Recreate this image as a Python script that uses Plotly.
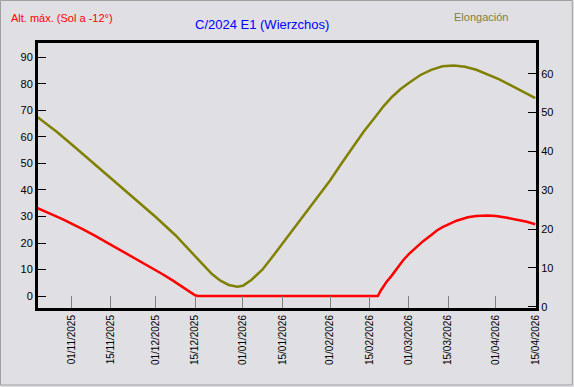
import plotly.graph_objects as go

# Altitud máxima (Sol a -12°) - eje izquierdo
alt_dates = ["2025-10-20", "2025-10-22", "2025-10-25", "2025-10-29", "2025-11-01", "2025-11-05",
             "2025-11-09", "2025-11-13", "2025-11-17", "2025-11-21", "2025-11-25", "2025-11-29",
             "2025-12-03", "2025-12-07", "2025-12-11", "2025-12-15", "2025-12-16", "2026-02-18",
             "2026-02-19", "2026-02-21", "2026-02-23", "2026-02-25", "2026-02-27", "2026-03-01",
             "2026-03-04", "2026-03-06", "2026-03-09", "2026-03-11", "2026-03-13", "2026-03-16",
             "2026-03-18", "2026-03-22", "2026-03-25", "2026-03-29", "2026-04-01", "2026-04-05",
             "2026-04-08", "2026-04-12", "2026-04-15"]
alt_values = [33.1, 32.3, 30.8, 28.9, 27.4, 25.2,
              23.0, 20.6, 18.2, 15.9, 13.4, 10.9,
              8.5, 5.9, 3.0, 0.3, 0.0, 0.0,
              2.0, 5.2, 7.8, 10.8, 13.5, 15.8,
              18.7, 20.6, 23.0, 24.7, 26.0, 27.4,
              28.4, 29.7, 30.2, 30.4, 30.2, 29.5,
              28.9, 28.0, 27.1]

# Elongación - eje derecho
elong_dates = ["2025-10-20", "2025-10-27", "2025-11-03", "2025-11-10", "2025-11-17", "2025-11-24",
               "2025-12-01", "2025-12-08", "2025-12-12", "2025-12-15", "2025-12-18", "2025-12-21",
               "2025-12-24", "2025-12-27", "2025-12-30", "2026-01-01", "2026-01-04", "2026-01-08",
               "2026-01-12", "2026-01-16", "2026-01-20", "2026-01-24", "2026-01-28", "2026-02-01",
               "2026-02-05", "2026-02-09", "2026-02-13", "2026-02-17", "2026-02-20", "2026-02-23",
               "2026-02-26", "2026-03-01", "2026-03-05", "2026-03-09", "2026-03-13", "2026-03-17",
               "2026-03-21", "2026-03-25", "2026-03-29", "2026-04-02", "2026-04-06", "2026-04-10",
               "2026-04-15"]
elong_values = [48.8, 44.9, 40.6, 36.2, 31.9, 27.6,
                23.1, 18.4, 15.3, 13.0, 10.6, 8.4,
                6.7, 5.6, 5.15, 5.4, 6.9, 9.6,
                13.3, 17.1, 20.8, 24.6, 28.5, 32.5,
                36.8, 41.1, 45.1, 48.8, 51.6, 54.0,
                56.0, 57.6, 59.6, 61.0, 61.9, 62.1,
                61.8, 61.0, 59.9, 58.6, 57.1, 55.5,
                53.7]

tick_dates = ["2025-11-01", "2025-11-15", "2025-12-01", "2025-12-15", "2026-01-01", "2026-01-15",
              "2026-02-01", "2026-02-15", "2026-03-01", "2026-03-15", "2026-04-01", "2026-04-15"]
tick_text = ["01/11/2025", "15/11/2025", "01/12/2025", "15/12/2025", "01/01/2026", "15/01/2026",
             "01/02/2026", "15/02/2026", "01/03/2026", "15/03/2026", "01/04/2026", "15/04/2026"]

title_text = "C/2024 E1 (Wierzchos)"
left_title = "Alt. máx. (Sol a -12°)"
right_title = "Elongación"

BG = "#e0dfe3"
FONT = "Liberation Sans, Arial, sans-serif"
PW, PH = 497.7, 265.0  # plot area size in px (for paper-coordinate conversions)

fig = go.Figure()
fig.add_trace(go.Scatter(x=elong_dates, y=elong_values, mode="lines", yaxis="y2",
                         line=dict(color="#808000", width=2.5), hoverinfo="skip"))
fig.add_trace(go.Scatter(x=alt_dates, y=alt_values, mode="lines", yaxis="y",
                         line=dict(color="#ff0000", width=2.5), hoverinfo="skip"))

fig.update_layout(
    width=574, height=387,
    margin=dict(l=38, r=38, t=43, b=79, pad=0, autoexpand=False),
    paper_bgcolor=BG, plot_bgcolor=BG,
    showlegend=False,
    font=dict(family=FONT, size=11, color="#000000"),
    xaxis=dict(
        type="date", automargin=False,
        range=["2025-10-20 03:00", "2026-04-15 06:00"],
        tickvals=tick_dates, ticktext=tick_text, tickangle=-90,
        ticks="inside", ticklen=12, tickcolor="#808080", tickwidth=1,
        tickfont=dict(family=FONT, size=10, color="#000000"),
        showgrid=False, zeroline=False,
        showline=True, linecolor="#000000", linewidth=3, mirror=True,
    ),
    yaxis=dict(
        automargin=False,
        range=[-4.5, 95.4], tickvals=[0, 10, 20, 30, 40, 50, 60, 70, 80, 90],
        ticks="inside", ticklen=8, tickcolor="#000000", tickwidth=1,
        tickfont=dict(family=FONT, size=11, color="#000000"),
        showgrid=False, zeroline=False,
        showline=True, linecolor="#000000", linewidth=3,
    ),
    yaxis2=dict(
        automargin=False,
        range=[-0.33, 67.9], tickvals=[0, 10, 20, 30, 40, 50, 60],
        overlaying="y", side="right",
        ticks="inside", ticklen=8, tickcolor="#000000", tickwidth=1,
        tickfont=dict(family=FONT, size=11, color="#000000"),
        showgrid=False, zeroline=False,
        showline=True, linecolor="#000000", linewidth=3,
    ),
    annotations=[
        dict(text=title_text, xref="paper", yref="paper", x=(261.7 - 38) / PW, y=(308 - 24.3) / PH,
             xanchor="center", yanchor="middle", showarrow=False,
             font=dict(family=FONT, size=13, color="#0000ff")),
        dict(text=left_title, xref="paper", yref="paper", x=(9 - 38) / PW, y=(308 - 17.7) / PH,
             xanchor="left", yanchor="middle", showarrow=False,
             font=dict(family=FONT, size=11, color="#ff0000")),
        dict(text=right_title, xref="paper", yref="paper", x=(509.3 - 38) / PW, y=(308 - 16.7) / PH,
             xanchor="right", yanchor="middle", showarrow=False,
             font=dict(family=FONT, size=11, color="#808040")),
    ],
    shapes=[
        dict(type="rect", xref="paper", yref="paper",
             x0=(0.5 - 38) / PW, x1=(572 - 38) / PW,
             y0=(308 - 385) / PH, y1=(308 - 0.5) / PH,
             line=dict(color="#a0a0a0", width=1), fillcolor="rgba(0,0,0,0)", layer="below"),
    ],
)

fig.write_html(
    "out.html",
    config={"displayModeBar": False, "staticPlot": True},
    post_script="document.documentElement.style.margin='0';document.body.style.margin='0';"
                "document.body.style.overflow='hidden';",
)
